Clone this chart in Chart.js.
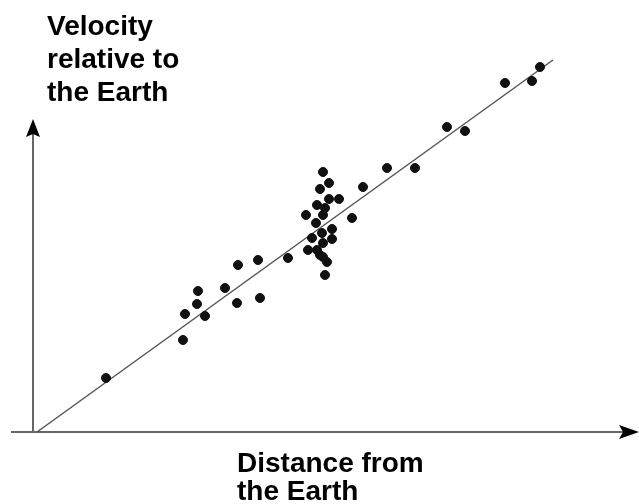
<!DOCTYPE html>
<html>
<head>
<meta charset="utf-8">
<script src="https://cdn.jsdelivr.net/npm/chart.js@4/dist/chart.umd.min.js"></script>
<style>
  html, body { margin: 0; padding: 0; background: #fff; }
  #grafico { display: block; }
</style>
</head>
<body>
<canvas id="grafico" width="639" height="504"></canvas>
<script>
// datos (unidades arbitrarias, origen en el cruce de ejes)
const distancia = [290, 296, 287, 296, 306, 284, 292, 290, 273, 283, 299, 289, 279, 299, 290,
  275, 284, 287, 290, 294, 292, 319, 330, 354, 382, 255, 225, 205, 192, 165, 164, 204, 227,
  152, 172, 150, 414, 432, 472, 499, 507, 73];
const velocidad = [260, 249, 243, 233, 233, 227, 224, 217, 217, 209, 203, 199, 194, 193, 189,
  182, 182, 177, 175, 170, 157, 214, 245, 264, 264, 174, 172, 167, 144, 141, 128, 129, 134,
  118, 116, 92, 305, 301, 349, 351, 365, 54];

// recta de ajuste (extremos)
const ajusteX = [4, 520];
const ajusteY = [0, 372];

// limites de los ejes con flecha
const ejeX = [-22, 606];
const ejeY = [0, 313];

const tituloY = ['Velocity', 'relative to', 'the Earth'];
const tituloX = ['Distance from', 'the Earth'];

const puntos = distancia.map((d, i) => ({ x: d, y: velocidad[i] }));
const recta = ajusteX.map((d, i) => ({ x: d, y: ajusteY[i] }));

const fuente = 'bold 28px "Liberation Sans", Arial, sans-serif';

const ejesPlugin = {
  id: 'ejes',
  beforeDraw(chart) {
    const ctx = chart.ctx;
    ctx.save();
    ctx.fillStyle = '#fff';
    ctx.fillRect(0, 0, chart.width, chart.height);
    ctx.restore();
  },
  beforeDatasetsDraw(chart) {
    const { ctx, scales: { x, y } } = chart;
    const x0 = x.getPixelForValue(0);
    const y0 = y.getPixelForValue(0);
    ctx.save();
    ctx.strokeStyle = '#666';
    ctx.lineWidth = 2;
    // eje horizontal
    ctx.beginPath();
    ctx.moveTo(x.getPixelForValue(ejeX[0]), y0);
    ctx.lineTo(x.getPixelForValue(ejeX[1]) - 14, y0);
    ctx.stroke();
    // eje vertical
    ctx.beginPath();
    ctx.moveTo(x0, y0);
    ctx.lineTo(x0, y.getPixelForValue(ejeY[1]) + 12);
    ctx.stroke();
    // flechas
    ctx.fillStyle = '#000';
    const tx = x.getPixelForValue(ejeX[1]);
    ctx.beginPath();
    ctx.moveTo(tx, y0);
    ctx.lineTo(tx - 20, y0 - 7);
    ctx.lineTo(tx - 16, y0);
    ctx.lineTo(tx - 20, y0 + 7);
    ctx.closePath();
    ctx.fill();
    const ty = y.getPixelForValue(ejeY[1]);
    ctx.beginPath();
    ctx.moveTo(x0, ty);
    ctx.lineTo(x0 - 7, ty + 18);
    ctx.lineTo(x0, ty + 15);
    ctx.lineTo(x0 + 7, ty + 18);
    ctx.closePath();
    ctx.fill();
    ctx.restore();
  },
  afterDraw(chart) {
    const ctx = chart.ctx;
    ctx.save();
    ctx.fillStyle = '#000';
    ctx.font = fuente;
    ctx.textBaseline = 'alphabetic';
    tituloY.forEach((t, i) => ctx.fillText(t, 47, 35 + i * 33));
    tituloX.forEach((t, i) => ctx.fillText(t, 237, 472 + i * 28));
    ctx.restore();
  }
};

new Chart(document.getElementById('grafico'), {
  type: 'scatter',
  data: {
    datasets: [
      {
        data: puntos,
        backgroundColor: '#111',
        borderColor: '#111',
        pointRadius: 4.5,
        pointHoverRadius: 4.5
      },
      {
        type: 'line',
        data: recta,
        borderColor: '#555',
        borderWidth: 1.5,
        pointRadius: 0,
        fill: false
      }
    ]
  },
  options: {
    responsive: false,
    animation: false,
    events: [],
    layout: { padding: 0, autoPadding: false },
    plugins: { legend: { display: false }, tooltip: { enabled: false } },
    scales: {
      x: { type: 'linear', min: -33, max: 606, display: false },
      y: { type: 'linear', min: -72, max: 432, display: false }
    }
  },
  plugins: [ejesPlugin]
});
</script>
</body>
</html>
